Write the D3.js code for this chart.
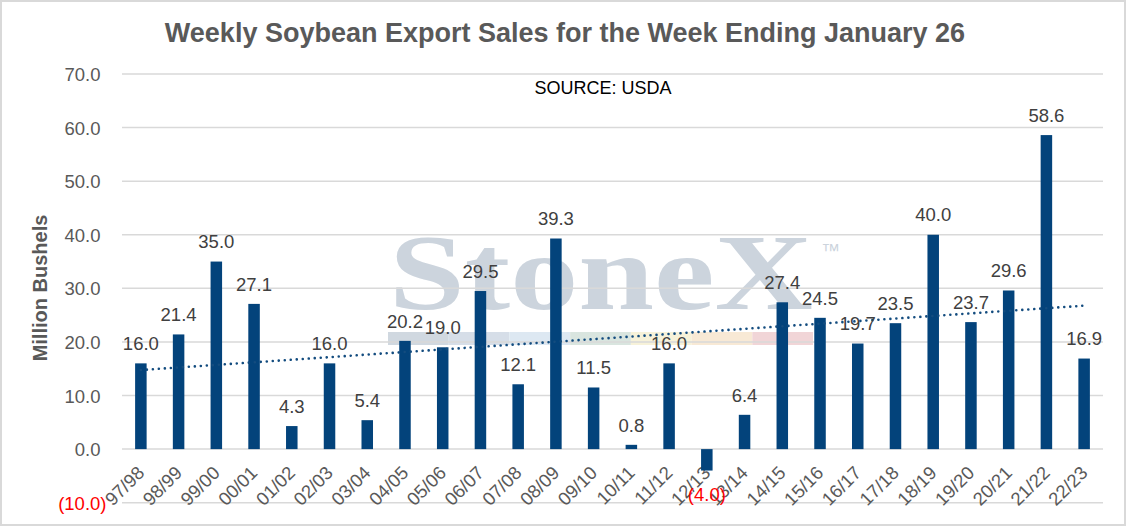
<!DOCTYPE html>
<html>
<head>
<meta charset="utf-8">
<script src="https://cdn.jsdelivr.net/npm/d3@7"></script>
<style>
  body { margin: 0; background: #fff; }
  svg { display: block; font-family: Arial, "Liberation Sans", sans-serif; }
</style>
</head>
<body>
<div id="chart"></div>
<script>
// marketing years and weekly sales (million bushels)
const categories = ["97/98", "98/99", "99/00", "00/01", "01/02", "02/03", "03/04", "04/05", "05/06",
    "06/07", "07/08", "08/09", "09/10", "10/11", "11/12", "12/13", "13/14", "14/15", "15/16",
    "16/17", "17/18", "18/19", "19/20", "20/21", "21/22", "22/23"];
const sales = [16.0, 21.4, 35.0, 27.1, 4.3, 16.0, 5.4, 20.2, 19.0, 29.5, 12.1, 39.3, 11.5, 0.8,
    16.0, -4.0, 6.4, 27.4, 24.5, 19.7, 23.5, 40.0, 23.7, 29.6, 58.6, 16.9];
const yTicks = [-10, 0, 10, 20, 30, 40, 50, 60, 70];
const watermarkBands = ["#d0d8e0", "#d6dee8", "#dde8f2", "#d9e5df", "#f7f2d9", "#f8e9d5", "#f1d5d7"];

const W = 1127, H = 527;
const plot = { left: 122, right: 1103, top: 74, bottom: 502.7 };

// number format used by the sheet: 0.0_);[Red](0.0)
const fmt = d3.format(".1f");
const label = v => v < 0 ? "(" + fmt(-v) + ")" : fmt(v);

const svg = d3.select("#chart")
    .append("svg")
    .attr("width", W)
    .attr("height", H);

// chart border
svg.append("rect")
    .attr("x", 1).attr("y", 1)
    .attr("width", W - 3).attr("height", H - 3)
    .attr("fill", "#fff")
    .attr("stroke", "#d9d9d9")
    .attr("stroke-width", 2);

// scales
const x = d3.scaleBand()
    .domain(categories)
    .range([plot.left, plot.right])
    .paddingInner(0.695)
    .paddingOuter(0.3475);
const cx = c => x(c) + x.bandwidth() / 2;

const y = d3.scaleLinear()
    .domain([-10, 70])
    .range([plot.bottom, plot.top]);

// watermark behind everything
const wm = svg.append("g").attr("class", "watermark");
wm.append("text")
    .attr("x", 389)
    .attr("y", 309)
    .attr("textLength", 424)
    .attr("lengthAdjust", "spacingAndGlyphs")
    .style("font-family", "'Liberation Serif', 'DejaVu Serif', serif")
    .style("font-size", "108px")
    .style("font-weight", "bold")
    .attr("fill", "#ccd4dd")
    .text("StoneX");
wm.append("text")
    .attr("x", 821)
    .attr("y", 257)
    .style("font-size", "19px")
    .attr("fill", "#ccd4dd")
    .text("™");
const bandW = (813 - 388) / watermarkBands.length;
wm.selectAll("rect")
    .data(watermarkBands)
    .join("rect")
    .attr("x", (d, i) => 388 + i * bandW)
    .attr("y", 332)
    .attr("width", bandW)
    .attr("height", 13)
    .attr("fill", d => d);

// gridlines
svg.append("g")
    .selectAll("line")
    .data(yTicks)
    .join("line")
    .attr("x1", plot.left)
    .attr("x2", plot.right)
    .attr("y1", d => y(d))
    .attr("y2", d => y(d))
    .attr("stroke", "#d9d9d9")
    .attr("stroke-width", 1.5);

// y axis labels
const yAxis = svg.append("g")
    .attr("transform", "translate(" + (plot.left - 15.5) + ",0)")
    .call(d3.axisLeft(y).tickValues(yTicks).tickSize(0).tickFormat(label));
yAxis.select(".domain").remove();
yAxis.selectAll("text")
    .attr("x", d => d < 0 ? 0 : -6)
    .attr("dy", "0.35em")
    .style("font-size", "18.5px")
    .attr("fill", d => d < 0 ? "#ff0000" : "#595959");

// y axis title
svg.append("text")
    .attr("transform", "translate(46.5,288) rotate(-90)")
    .attr("text-anchor", "middle")
    .style("font-size", "20px")
    .style("font-weight", "bold")
    .attr("fill", "#595959")
    .text("Million Bushels");

// x axis labels, rotated
const xAxis = svg.append("g")
    .attr("transform", "translate(0,469.5)")
    .call(d3.axisBottom(x).tickSize(0));
xAxis.select(".domain").remove();
xAxis.selectAll("text")
    .attr("y", 0)
    .attr("dy", "0.35em")
    .attr("transform", "rotate(-45)")
    .attr("text-anchor", "end")
    .style("font-size", "18.5px")
    .attr("fill", "#595959");

// bars
const data = categories.map((c, i) => ({ cat: c, value: sales[i] }));
svg.append("g")
    .selectAll("rect")
    .data(data)
    .join("rect")
    .attr("x", d => x(d.cat))
    .attr("width", x.bandwidth())
    .attr("y", d => y(Math.max(0, d.value)))
    .attr("height", d => Math.abs(y(d.value) - y(0)))
    .attr("fill", "#03437b");

// linear trendline (least squares over 1..n)
const n = sales.length;
const xs = d3.range(1, n + 1);
const mx = d3.mean(xs), my = d3.mean(sales);
const slope = d3.sum(xs, (v, i) => (v - mx) * (sales[i] - my)) / d3.sum(xs, v => (v - mx) ** 2);
const icpt = my - slope * mx;
const trend = data.map((d, i) => ({ cat: d.cat, value: icpt + slope * (i + 1) }));
svg.append("path")
    .datum(trend)
    .attr("fill", "none")
    .attr("stroke", "#134c7f")
    .attr("stroke-width", 2.6)
    .attr("stroke-linecap", "round")
    .attr("stroke-dasharray", "0.01 6")
    .attr("d", d3.line()
        .x(d => cx(d.cat))
        .y(d => y(d.value)));

// data labels
svg.append("g")
    .selectAll("text")
    .data(data)
    .join("text")
    .attr("x", d => cx(d.cat))
    .attr("y", d => d.value < 0 ? y(d.value) + 30 : y(d.value) - 13.3)
    .attr("text-anchor", "middle")
    .style("font-size", "18.5px")
    .attr("fill", d => d.value < 0 ? "#ff0000" : "#404040")
    .text(d => label(d.value));

// title and source note
svg.append("text")
    .attr("x", 565)
    .attr("y", 41.5)
    .attr("text-anchor", "middle")
    .style("font-size", "27px")
    .style("font-weight", "bold")
    .attr("fill", "#595959")
    .text("Weekly Soybean Export Sales for the Week Ending January 26");

svg.append("text")
    .attr("x", 603)
    .attr("y", 94)
    .attr("text-anchor", "middle")
    .style("font-size", "18px")
    .attr("fill", "#000")
    .text("SOURCE: USDA");
</script>
</body>
</html>
